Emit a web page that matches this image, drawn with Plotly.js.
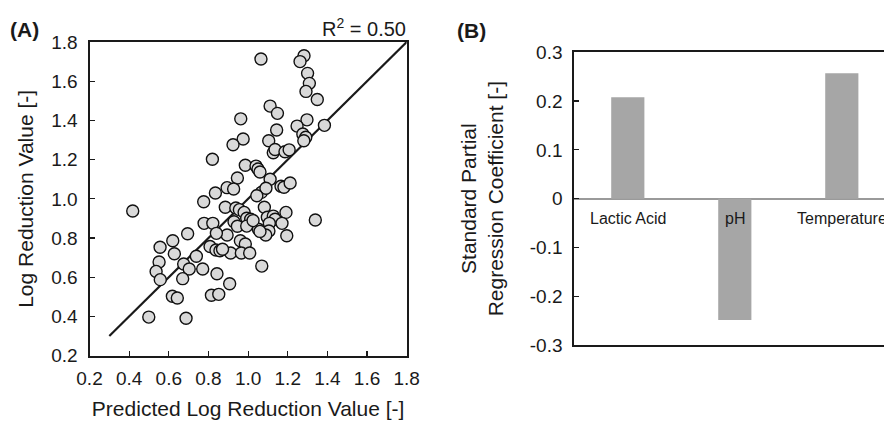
<!DOCTYPE html>
<html>
<head>
<meta charset="utf-8">
<script src="https://cdn.plot.ly/plotly-3.0.1.min.js"></script>
<style>
html,body{margin:0;padding:0;overflow:hidden;background:#fff;width:884px;height:422px;}
#chart{width:900px;height:422px;}
</style>
</head>
<body>
<div id="chart"></div>
<script>
// Panel A: predicted vs observed log reduction values
const predictedLRV = [
  1.065,1.282,1.262,1.300,1.309,1.292,1.349,1.111,1.148,0.963,
  1.297,1.385,1.247,1.144,1.276,1.291,1.281,0.975,0.924,1.104,
  1.127,1.136,1.186,1.207,0.820,0.986,1.040,1.050,1.060,0.946,
  1.111,1.166,1.181,1.212,0.894,0.927,0.835,1.067,1.090,0.776,
  1.044,0.418,0.885,0.938,0.956,0.980,0.993,1.013,1.082,1.097,
  1.127,1.136,1.191,1.171,1.107,1.105,1.089,1.052,1.195,1.339,
  0.778,0.822,0.929,0.946,0.993,0.894,0.840,0.695,0.620,0.556,
  0.628,0.808,0.838,0.858,0.961,0.986,0.912,0.966,1.008,0.739,
  0.675,0.703,0.771,0.551,0.536,0.557,0.670,0.843,1.069,0.907,
  0.618,0.643,0.815,0.852,0.499,0.687,1.025,0.871,1.060
];
const observedLRV = [
  1.713,1.730,1.700,1.640,1.589,1.548,1.507,1.473,1.436,1.408,
  1.403,1.375,1.371,1.351,1.331,1.314,1.296,1.305,1.276,1.296,
  1.235,1.252,1.240,1.250,1.202,1.171,1.167,1.152,1.137,1.106,
  1.100,1.064,1.059,1.081,1.057,1.050,1.030,1.033,1.054,0.985,
  1.016,0.938,0.957,0.953,0.945,0.931,0.901,0.896,0.957,0.906,
  0.912,0.896,0.931,0.875,0.875,0.836,0.816,0.845,0.812,0.892,
  0.875,0.875,0.883,0.860,0.861,0.816,0.824,0.822,0.786,0.753,
  0.720,0.757,0.739,0.735,0.786,0.770,0.724,0.724,0.724,0.707,
  0.668,0.642,0.642,0.678,0.630,0.588,0.593,0.618,0.657,0.567,
  0.503,0.494,0.508,0.513,0.397,0.391,0.889,0.743,0.834
];
const fitLineX = [0.3, 1.8];
const fitLineY = [0.3, 1.8];
const rSquaredText = "R<sup>2</sup> = 0.50";

// Panel B: standard partial regression coefficients
const factors = ["Lactic Acid", "pH", "Temperature"];
const coefficients = [0.208, -0.249, 0.257];
const coefTickVals = [-0.3, -0.2, -0.1, 0, 0.1, 0.2, 0.3];
const coefTickText = ["-0.3", "-0.2", "-0.1", "0", "0.1", "0.2", "0.3"];

const FONT = "Liberation Sans, Arial, sans-serif";
const W = 900, H = 422;
const px = v => v / W;
const py = v => (H - v) / H;

const traces = [
  {
    type: "scatter", mode: "lines", x: fitLineX, y: fitLineY,
    xaxis: "x", yaxis: "y",
    line: {color: "#1a1a1a", width: 2.2}, hoverinfo: "skip", showlegend: false
  },
  {
    type: "scatter", mode: "markers", x: predictedLRV, y: observedLRV,
    xaxis: "x", yaxis: "y",
    marker: {size: 12, color: "#d9d9d9", line: {color: "#111", width: 1.4}},
    showlegend: false
  },
  {
    type: "bar", x: factors, y: coefficients, xaxis: "x2", yaxis: "y2",
    marker: {color: "#a6a6a6"}, showlegend: false
  }
];

const axisCommon = {
  showgrid: false, zeroline: false, showline: true, mirror: true,
  linecolor: "#1a1a1a", linewidth: 2, ticks: "inside", ticklen: 5,
  tickcolor: "#1a1a1a", tickwidth: 1.2,
  tickfont: {family: FONT, size: 19, color: "#1a1a1a"}
};

const layout = {
  width: W, height: H,
  margin: {l: 0, r: 0, t: 0, b: 0},
  paper_bgcolor: "#fff", plot_bgcolor: "#fff",
  font: {family: FONT, color: "#1a1a1a"},
  bargap: 0.69,
  xaxis: Object.assign({}, axisCommon, {
    domain: [px(89.5), px(406.7)], anchor: "y",
    range: [0.2, 1.8], dtick: 0.2, tick0: 0.2, tickformat: ".1f",
    ticklabelstandoff: 4,
    title: {text: "Predicted Log Reduction Value [-]", font: {family: FONT, size: 21, color: "#1a1a1a"}, standoff: 14}
  }),
  yaxis: Object.assign({}, axisCommon, {
    domain: [py(355.7), py(42)], anchor: "x",
    range: [0.2, 1.8], dtick: 0.2, tick0: 0.2, tickformat: ".1f",
    ticklabelstandoff: 6,
    title: {text: "Log Reduction Value [-]", font: {family: FONT, size: 21, color: "#1a1a1a"}, standoff: 12}
  }),
  xaxis2: Object.assign({}, axisCommon, {
    domain: [px(574.3), px(895.3)], anchor: "y2",
    range: [-0.5, 2.5], ticks: "", showticklabels: false
  }),
  yaxis2: Object.assign({}, axisCommon, {
    domain: [py(345), py(52.3)], anchor: "x2",
    range: [-0.3, 0.3], tickvals: coefTickVals, ticktext: coefTickText,
    zeroline: true, zerolinecolor: "#9a9a9a", zerolinewidth: 2,
    ticklabelstandoff: 6,
    title: {text: "Standard Partial<br>Regression Coefficient [-]", font: {family: FONT, size: 21, color: "#1a1a1a"}, standoff: 20}
  }),
  annotations: [
    {xref: "paper", yref: "paper", x: px(8), y: py(16), xanchor: "left", yanchor: "top",
     text: "<b>(A)</b>", showarrow: false, font: {family: FONT, size: 21, color: "#1a1a1a"}},
    {xref: "paper", yref: "paper", x: px(455), y: py(17), xanchor: "left", yanchor: "top",
     text: "<b>(B)</b>", showarrow: false, font: {family: FONT, size: 21, color: "#1a1a1a"}},
    {xref: "paper", yref: "paper", x: px(408), y: py(42), xanchor: "right", yanchor: "bottom",
     text: rSquaredText, showarrow: false, font: {family: FONT, size: 20, color: "#1a1a1a"}}
  ].concat(factors.map(f => ({
    xref: "x2", yref: "y2", x: f, y: 0, yanchor: "top", yshift: -9,
    text: f, showarrow: false, font: {family: FONT, size: 16, color: "#1a1a1a"}
  })))
};

Plotly.newPlot("chart", traces, layout, {displayModeBar: false, staticPlot: true});
</script>
</body>
</html>
